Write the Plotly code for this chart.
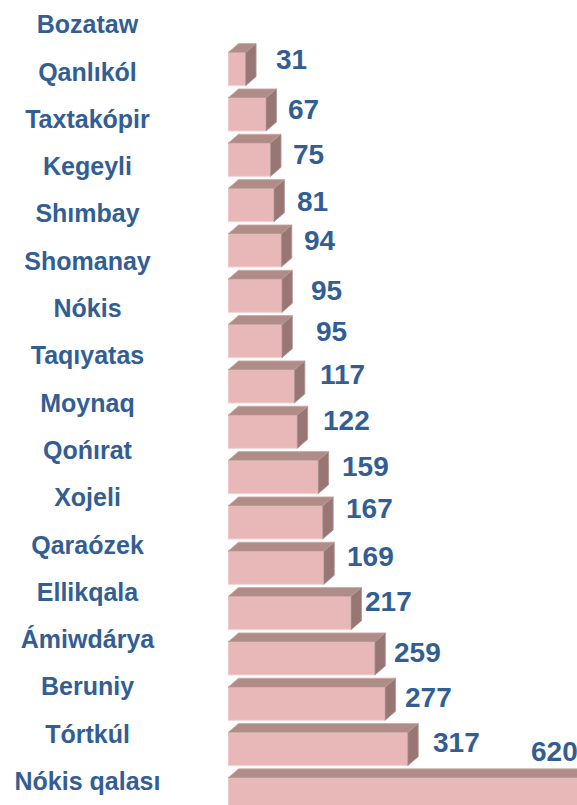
import plotly.graph_objects as go

# Districts of Karakalpakstan, listed top to bottom
districts = [
    "Bozataw", "Qanlıkól", "Taxtakópir", "Kegeyli", "Shımbay", "Shomanay",
    "Nókis", "Taqıyatas", "Moynaq", "Qońırat", "Xojeli", "Qaraózek",
    "Ellikqala", "Ámiwdárya", "Beruniy", "Tórtkúl", "Nókis qalası",
]
values = [31, 67, 75, 81, 94, 95, 95, 117, 122, 159, 167, 169, 217, 259, 277, 317, 620]

# pixel nudges for the value labels (x, y)
label_nudge = [
    (18, 10), (10, 5), (10, 5), (11, 3.5), (10.5, 10.5), (16.5, 5), (21.5, 10),
    (13, 12.5), (13.5, 11), (11, 10.5), (11, 14.5), (11, 11), (1.5, 11.5),
    (7, 6), (7, 6.5), (12.5, 7), (-48, 43),
]

W, H = 577, 805
TEXT = "#335E93"
FRONT = "#E8B8B8"
TOP = "#B08C89"
SIDE = "#987674"
FONT = "Liberation Sans"

plot_left = 228
px_per_unit = 0.567
x_max = (W - plot_left) / px_per_unit
row_px = 45.33
first_row = 69.2
lab_px = 47.3
first_lab = 27

pos = list(range(len(values)))
bar_w = 0.73          # bar thickness in category units
depth_x = 18.5        # 3D depth along the value axis
depth_y = 0.2         # 3D depth along the category axis

top_x, top_y, side_x, side_y = [], [], [], []
for i, v in zip(pos, values):
    t = i - bar_w / 2
    b = i + bar_w / 2
    top_x += [0, v, v + depth_x, depth_x, 0, None]
    top_y += [t, t, t - depth_y, t - depth_y, t, None]
    side_x += [v, v + depth_x, v + depth_x, v, v, None]
    side_y += [t, t - depth_y, b - depth_y, b, t, None]

fig = go.Figure()
fig.add_trace(go.Bar(
    x=values, y=pos, orientation="h", width=bar_w,
    marker=dict(color=FRONT, line=dict(color="#F4D6D6", width=1)),
    hoverinfo="x",
))
fig.add_trace(go.Scatter(
    x=top_x, y=top_y, mode="lines", fill="toself", fillcolor=TOP,
    line=dict(color="#C9A9A6", width=0.8), hoverinfo="skip",
))
fig.add_trace(go.Scatter(
    x=side_x, y=side_y, mode="lines", fill="toself", fillcolor=SIDE,
    line=dict(color="#B39492", width=0.8), hoverinfo="skip",
))
# district names in their own column
fig.add_trace(go.Scatter(
    x=[0] * len(districts), y=pos, mode="text", text=districts,
    textposition="middle center",
    textfont=dict(family=FONT, size=25, color=TEXT, weight="bold"),
    xaxis="x2", yaxis="y2", hoverinfo="skip",
))

# value labels sit just past the bar end; a bar running off the plot
# keeps its label inside the visible range
for i, v, (nx, ny) in zip(pos, values, label_nudge):
    fig.add_annotation(
        x=min(v + depth_x, x_max), y=i, xref="x", yref="y", text=str(v),
        showarrow=False, xanchor="left", yanchor="middle", xshift=nx, yshift=ny,
        font=dict(family=FONT, size=28, color=TEXT, weight="bold"),
    )

fig.update_layout(
    width=W, height=H,
    margin=dict(l=0, r=0, t=0, b=0),
    paper_bgcolor="white", plot_bgcolor="white",
    showlegend=False,
    xaxis=dict(domain=[plot_left / W, 1], range=[0, x_max],
               visible=False, fixedrange=True),
    yaxis=dict(range=[(H - first_row) / row_px, -first_row / row_px],
               visible=False, fixedrange=True),
    xaxis2=dict(domain=[0, 175 / W], range=[-1, 1], visible=False, anchor="y2"),
    yaxis2=dict(range=[(H - first_lab) / lab_px, -first_lab / lab_px],
                visible=False, anchor="x2"),
)

fig.write_html("out.html")
